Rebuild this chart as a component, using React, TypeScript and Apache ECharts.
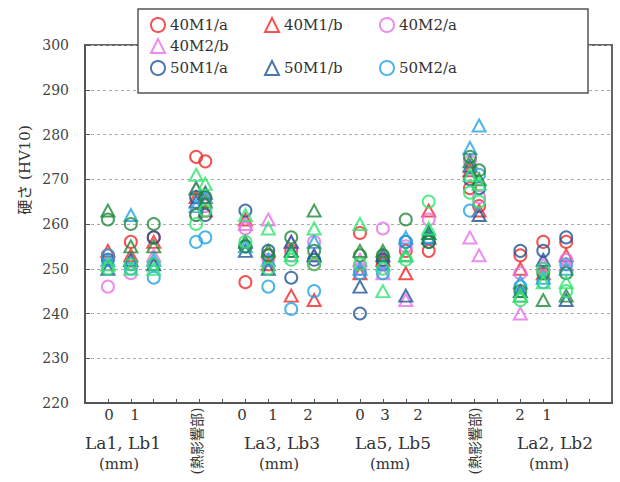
import { useEffect, useRef } from "react";
import * as echarts from "echarts";

// x positions of the measurement columns (axis units)
const xPositions = [1, 2, 3, 4.85, 5.25, 7, 8, 9, 10, 12, 13, 14, 15, 16.8, 17.2, 19, 20, 21];

const seriesNames = [
  "40M1/a", "40M1/b", "40M2/a", "40M2/b",
  "50M1/a", "50M1/b", "50M2/a", "50M2/b",
  "60M1/a", "60M1/b", "60M2/a", "60M2/b",
];

const s40M1a = [253, 256, 257, 275, 274, 247, 253, 254, 251, 258, 251, 254, 254, 268, 264, 253, 256, 256];
const s40M1b = [254, 253, 256, 266, 263, 261, 251, 244, 243, 249, 252, 249, 263, 272, 263, 250, 249, 253];
const s40M2a = [246, 249, 251, 262, 264, 259, 252, 253, 256, 250, 259, 255, 261, 274, 266, 249, 250, 252];
const s40M2b = [251, 252, 253, 268, 266, 260, 261, 256, 253, 252, 249, 243, 257, 257, 253, 240, 251, 251];
const s50M1a = [252, 251, 257, 266, 262, 263, 254, 248, 252, 240, 252, 256, 256, 270, 268, 254, 254, 257];
const s50M1b = [250, 252, 251, 265, 267, 254, 250, 256, 253, 246, 253, 244, 257, 273, 262, 245, 252, 243];
const s50M2a = [253, 250, 248, 256, 257, 255, 246, 241, 245, 249, 249, 256, 257, 263, 271, 246, 247, 251];
const s50M2b = [252, 262, 252, 264, 266, 255, 252, 254, 256, 250, 251, 257, 258, 277, 282, 247, 248, 250];
const s60M1a = [261, 260, 260, 262, 266, 255, 253, 257, 254, 253, 253, 261, 256, 275, 272, 245, 249, 249];
const s60M1b = [263, 255, 255, 268, 265, 256, 254, 254, 263, 254, 254, 253, 258, 274, 270, 244, 243, 244];
const s60M2a = [250, 251, 251, 260, 263, 256, 250, 252, 251, 251, 250, 252, 265, 267, 265, 243, 250, 245];
const s60M2b = [251, 250, 250, 271, 269, 262, 259, 253, 259, 260, 245, 253, 259, 271, 269, 244, 247, 247];

const seriesValues = [s40M1a, s40M1b, s40M2a, s40M2b, s50M1a, s50M1b, s50M2a, s50M2b, s60M1a, s60M1b, s60M2a, s60M2b];

const legendNames = ["40M1/a", "40M1/b", "40M2/a", "40M2/b", "50M1/a", "50M1/b", "50M2/a"];

const yTicks = [220, 230, 240, 250, 260, 270, 280, 290, 300];
const digitLabels = ["0", "1", "0", "1", "2", "0", "3", "2", "2", "1"];
const groupLabels = ["La1, Lb1", "La3, Lb3", "La5, Lb5", "La2, Lb2"];
const unitLabel = "(mm)";
const hazLabel = "(熱影響部)";
const yAxisName = "硬さ (HV10)";

// styles / layout
const colors = ["#f02828", "#f02828", "#e870e8", "#e870e8", "#1f5596", "#1f5596", "#22a2e2", "#22a2e2", "#1f8a3a", "#1f8a3a", "#2ee66e", "#2ee66e"];
const symbols = ["circle", "triangle", "circle", "triangle", "circle", "triangle", "circle", "triangle", "circle", "triangle", "circle", "triangle"];
const legendPos = [[150, 17], [264, 17], [379, 17], [150, 38], [150, 60], [264, 60], [379, 60]];
const digitX = [109, 135, 242, 273, 308, 360, 385, 418, 520, 547];
const groupX = [123, 282, 393, 555];
const unitX = [119, 279, 390, 549];
const hazX = [197, 475];

const SERIF = "'DejaVu Serif', 'Noto Sans CJK JP', serif";
const JP = "'DejaVu Serif', 'Noto Sans CJK JP', sans-serif";

export default function App() {
  const ref = useRef<HTMLDivElement>(null);
  useEffect(() => {
    const chart = echarts.init(ref.current!, null, { renderer: "svg" });

    const series = seriesNames.map((name, i) => ({
      name,
      type: "scatter",
      symbol: symbols[i],
      symbolSize: symbols[i] === "circle" ? 12 : [13, 12],
      itemStyle: { color: "rgba(0,0,0,0)", borderColor: colors[i], borderWidth: 2 },
      emphasis: { disabled: true },
      data: xPositions.map((x, j) => [x, seriesValues[i][j]]),
      z: 3,
    }));

    const legends = legendNames.map((name, k) => ({
      data: [name],
      left: legendPos[k][0],
      top: legendPos[k][1],
      padding: 0,
      itemWidth: 14,
      itemHeight: 14,
      selectedMode: false,
      itemStyle: { color: "rgba(0,0,0,0)", borderColor: colors[seriesNames.indexOf(name)], borderWidth: 2 },
      textStyle: { fontFamily: SERIF, fontSize: 15, color: "#333" },
      z: 10,
    }));

    const graphics: any[] = [
      {
        type: "rect",
        shape: { x: 138, y: 9, width: 450, height: 84 },
        style: { fill: "#fff", stroke: "#555", lineWidth: 1.5 },
        z: 5,
      },
      {
        type: "text",
        x: 25,
        y: 170,
        rotation: Math.PI / 2,
        style: { text: yAxisName, fontFamily: JP, fontSize: 15, fill: "#333", align: "center", verticalAlign: "middle" },
      },
    ];
    digitLabels.forEach((t, i) =>
      graphics.push({
        type: "text", x: digitX[i], y: 415,
        style: { text: t, fontFamily: SERIF, fontSize: 15, fill: "#333", align: "center", verticalAlign: "middle" },
      })
    );
    groupLabels.forEach((t, i) =>
      graphics.push({
        type: "text", x: groupX[i], y: 443,
        style: { text: t, fontFamily: SERIF, fontSize: 17, fill: "#333", align: "center", verticalAlign: "middle" },
      })
    );
    unitX.forEach((x) =>
      graphics.push({
        type: "text", x, y: 464,
        style: { text: unitLabel, fontFamily: SERIF, fontSize: 15, fill: "#333", align: "center", verticalAlign: "middle" },
      })
    );
    hazX.forEach((x) =>
      graphics.push({
        type: "text", x, y: 441, rotation: Math.PI / 2,
        style: { text: hazLabel, fontFamily: JP, fontSize: 14, fill: "#333", align: "center", verticalAlign: "middle" },
      })
    );

    chart.setOption({
      animation: false,
      backgroundColor: "#fff",
      grid: { left: 85, right: 8, top: 45, bottom: 79, show: true, borderColor: "#666", borderWidth: 2, backgroundColor: "transparent" },
      xAxis: {
        type: "value",
        min: 0,
        max: 23,
        interval: 1,
        axisLine: { show: true, lineStyle: { color: "#555", width: 2 } },
        axisTick: { show: true, inside: true, length: 4, lineStyle: { color: "#555" } },
        axisLabel: { show: false },
        splitLine: { show: false },
      },
      yAxis: {
        type: "value",
        min: yTicks[0],
        max: yTicks[yTicks.length - 1],
        interval: 10,
        axisLine: { show: true, lineStyle: { color: "#555", width: 2 } },
        axisTick: { show: true, inside: true, length: 5, lineStyle: { color: "#555" } },
        axisLabel: { fontFamily: SERIF, fontSize: 14, color: "#444", margin: 16 },
        splitLine: { show: true, lineStyle: { type: [3, 3], color: "#aaa", width: 1 } },
      },
      legend: legends,
      graphic: graphics,
      series,
    });
    return () => chart.dispose();
  }, []);
  return <div ref={ref} style={{ position: "absolute", left: 0, top: 0, width: 620, height: 482 }} />;
}
